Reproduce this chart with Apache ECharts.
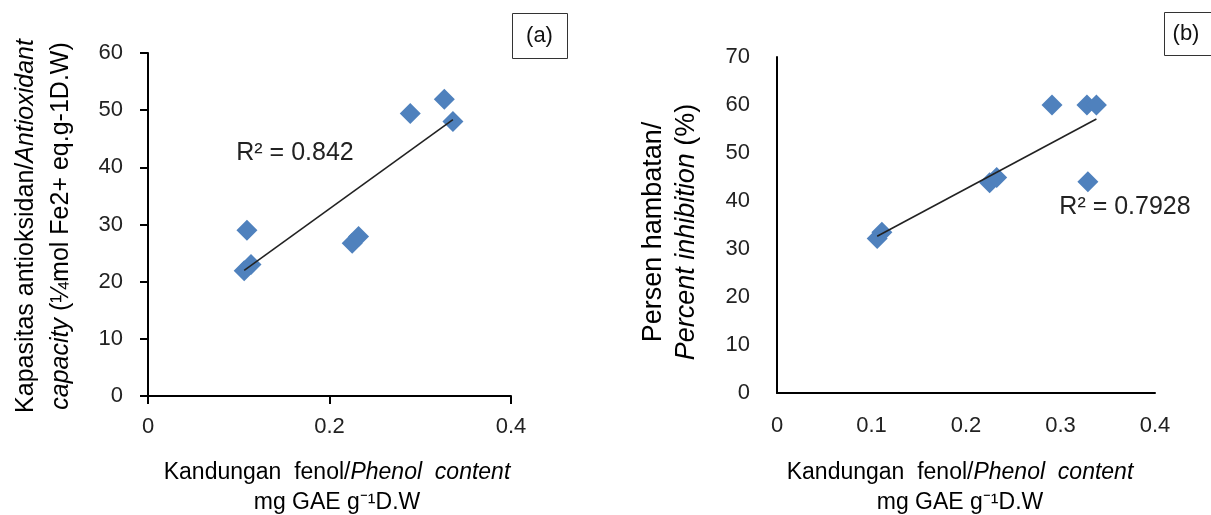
<!DOCTYPE html>
<html>
<head>
<meta charset="utf-8">
<script src="https://cdn.jsdelivr.net/npm/echarts@6/dist/echarts.min.js"></script>
<style>
html,body{margin:0;padding:0;background:#fff;}
#chart{width:1211px;height:515px;}
</style>
</head>
<body>
<div id="chart"></div>
<script>
// ----- data -----
const phenolA   = [0.106, 0.1135, 0.109, 0.225, 0.232, 0.289, 0.3265, 0.336];
const capacityA = [21.9, 23.0, 29.0, 26.7, 27.9, 49.4, 51.9, 48.0];
const phenolB     = [0.106, 0.111, 0.225, 0.2325, 0.291, 0.328, 0.338, 0.329];
const inhibitionB = [32.2, 33.5, 43.8, 44.9, 60.0, 60.0, 60.0, 44.0];
const r2LabelA = 'R² = 0.842';
const r2LabelB = 'R² = 0.7928';
const panelA = '(a)';
const panelB = '(b)';
const xTicksA = [0, 0.2, 0.4];
const xTicksB = [0, 0.1, 0.2, 0.3, 0.4];

function fit(xs, ys) {
  const n = xs.length;
  const mx = xs.reduce((a, b) => a + b, 0) / n;
  const my = ys.reduce((a, b) => a + b, 0) / n;
  let sxy = 0, sxx = 0;
  for (let i = 0; i < n; i++) { sxy += (xs[i] - mx) * (ys[i] - my); sxx += (xs[i] - mx) ** 2; }
  const b = sxy / sxx, a = my - b * mx;
  const x0 = Math.min(...xs), x1 = Math.max(...xs);
  return [[x0, a + b * x0], [x1, a + b * x1]];
}
const zip = (xs, ys) => xs.map((x, i) => [x, ys[i]]);

const FONT = '"Liberation Sans", Arial, sans-serif';
const tickLabel = { color: '#222', fontFamily: FONT, fontSize: 22 };
const axisLine = { show: true, lineStyle: { color: '#000', width: 2 } };
function richStyle(size, lh) {
  return { n: { fontFamily: FONT, fontSize: size, lineHeight: lh, fill: '#000' },
           i: { fontFamily: FONT, fontSize: size, lineHeight: lh, fontStyle: 'italic', fill: '#000' } };
}

const chart = echarts.init(document.getElementById('chart'), null, { renderer: 'canvas' });
chart.setOption({
  animation: false,
  backgroundColor: '#fff',
  grid: [
    { left: 148, right: 700, top: 53, bottom: 119, containLabel: false },
    { left: 777, right: 56, top: 57, bottom: 122, containLabel: false }
  ],
  xAxis: [
    { gridIndex: 0, type: 'value', min: 0, max: 0.4, interval: 0.2,
      axisLine: axisLine, splitLine: { show: false },
      axisTick: { show: true, inside: false, length: 8, lineStyle: { color: '#000', width: 2 } },
      axisLabel: Object.assign({ margin: 20, formatter: v => xTicksA.includes(+v.toFixed(2)) ? String(+v.toFixed(2)) : '' }, tickLabel) },
    { gridIndex: 1, type: 'value', min: 0, max: 0.4, interval: 0.1,
      axisLine: axisLine, splitLine: { show: false }, axisTick: { show: false },
      axisLabel: Object.assign({ margin: 22, formatter: v => xTicksB.includes(+v.toFixed(2)) ? String(+v.toFixed(2)) : '' }, tickLabel) }
  ],
  yAxis: [
    { gridIndex: 0, type: 'value', min: 0, max: 60, interval: 10,
      axisLine: axisLine, splitLine: { show: false },
      axisTick: { show: true, inside: false, length: 8, lineStyle: { color: '#000', width: 2 } },
      axisLabel: Object.assign({ margin: 25 }, tickLabel) },
    { gridIndex: 1, type: 'value', min: 0, max: 70, interval: 10,
      axisLine: axisLine, splitLine: { show: false }, axisTick: { show: false },
      axisLabel: Object.assign({ margin: 27 }, tickLabel) }
  ],
  series: [
    { type: 'scatter', xAxisIndex: 0, yAxisIndex: 0, symbol: 'diamond', symbolSize: 21,
      itemStyle: { color: '#4F81BD', opacity: 1 }, data: zip(phenolA, capacityA), z: 2 },
    { type: 'line', xAxisIndex: 0, yAxisIndex: 0, showSymbol: false, symbol: 'none',
      lineStyle: { color: '#222', width: 1.6 }, data: fit(phenolA, capacityA), z: 3 },
    { type: 'scatter', xAxisIndex: 1, yAxisIndex: 1, symbol: 'diamond', symbolSize: 21,
      itemStyle: { color: '#4F81BD', opacity: 1 }, data: zip(phenolB, inhibitionB), z: 2 },
    { type: 'line', xAxisIndex: 1, yAxisIndex: 1, showSymbol: false, symbol: 'none',
      lineStyle: { color: '#222', width: 1.6 }, data: fit(phenolB, inhibitionB), z: 3 }
  ],
  graphic: [
    // panel boxes
    { type: 'rect', shape: { x: 512.5, y: 13.5, width: 55, height: 45 },
      style: { fill: '#fff', stroke: '#333', lineWidth: 1 } },
    { type: 'text', x: 539.5, y: 36, style: { text: panelA, fontFamily: FONT, fontSize: 22, fill: '#111', align: 'center', verticalAlign: 'middle' } },
    { type: 'rect', shape: { x: 1164.5, y: 12.5, width: 60, height: 43 },
      style: { fill: '#fff', stroke: '#333', lineWidth: 1 } },
    { type: 'text', x: 1186, y: 34, style: { text: panelB, fontFamily: FONT, fontSize: 22, fill: '#111', align: 'center', verticalAlign: 'middle' } },
    // R² labels
    { type: 'text', x: 295, y: 153, style: { text: r2LabelA, fontFamily: FONT, fontSize: 25, fill: '#222', align: 'center', verticalAlign: 'middle' } },
    { type: 'text', x: 1125, y: 207, style: { text: r2LabelB, fontFamily: FONT, fontSize: 25, fill: '#222', align: 'center', verticalAlign: 'middle' } },
    // y-axis names
    { type: 'text', x: 44, y: 226, rotation: Math.PI / 2,
      style: { text: '{n|Kapasitas antioksidan/}{i|Antioxidant}\n{i|capacity}{n| (¼mol Fe2+ eq.g-1D.W)}',
        align: 'center', verticalAlign: 'middle', fill: '#000', rich: richStyle(25, 35) } },
    { type: 'text', x: 670, y: 232, rotation: Math.PI / 2,
      style: { text: '{n|Persen hambatan/}\n{i|Percent inhibition}{n| (%)}',
        align: 'center', verticalAlign: 'middle', fill: '#000', rich: richStyle(27, 33) } },
    // x-axis names
    { type: 'text', x: 337, y: 488,
      style: { text: '{n|Kandungan  fenol/}{i|Phenol  content}\n{n|mg GAE g⁻¹D.W}',
        align: 'center', verticalAlign: 'middle', fill: '#000', rich: richStyle(23, 30) } },
    { type: 'text', x: 960, y: 488,
      style: { text: '{n|Kandungan  fenol/}{i|Phenol  content}\n{n|mg GAE g⁻¹D.W}',
        align: 'center', verticalAlign: 'middle', fill: '#000', rich: richStyle(23, 30) } }
  ]
});
</script>
</body>
</html>
